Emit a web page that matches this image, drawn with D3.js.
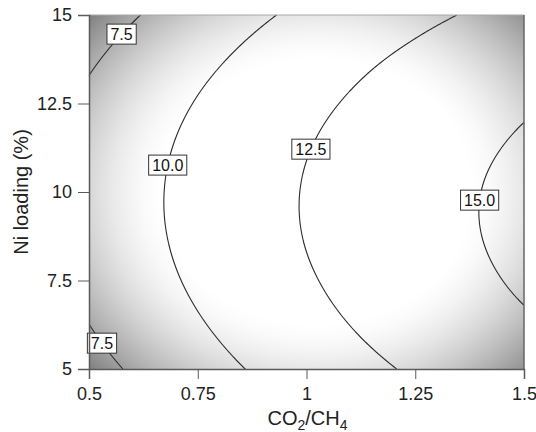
<!DOCTYPE html>
<html>
<head>
<meta charset="utf-8">
<script src="https://cdn.jsdelivr.net/npm/d3@7"></script>
<style>
  body { margin: 0; background: #fff; }
  svg { display: block; }
</style>
</head>
<body>
<svg id="chart" width="536" height="432"></svg>
<script>
// Grid of CO2/CH4 ratios (columns) and Ni loadings (rows, %)
const ratioGrid = [0.5, 0.625, 0.75, 0.875, 1.0, 1.125, 1.25, 1.375, 1.5];
const loadingGrid = [5, 6.25, 7.5, 8.75, 10, 11.25, 12.5, 13.75, 15];

// Response values, one row per Ni loading
const load5    = [6.73, 7.95, 9.08, 10.13, 11.09, 11.97, 12.76, 13.47, 14.09];
const load6_25 = [7.49, 8.70, 9.82, 10.86, 11.81, 12.68, 13.46, 14.16, 14.77];
const load7_5  = [8.02, 9.22, 10.33, 11.36, 12.30, 13.16, 13.93, 14.62, 15.23];
const load8_75 = [8.32, 9.51, 10.61, 11.63, 12.57, 13.42, 14.18, 14.86, 15.45];
const load10   = [8.39, 9.57, 10.67, 11.68, 12.61, 13.45, 14.20, 14.87, 15.46];
const load11_25= [8.24, 9.41, 10.50, 11.50, 12.42, 13.25, 13.99, 14.65, 15.23];
const load12_5 = [7.86, 9.02, 10.10, 11.09, 12.00, 12.82, 13.56, 14.21, 14.78];
const load13_75= [7.25, 8.40, 9.47, 10.45, 11.35, 12.17, 12.89, 13.54, 14.09];
const load15   = [6.41, 7.56, 8.62, 9.59, 10.48, 11.29, 12.00, 12.64, 13.19];

// Contour levels and axis ticks
const levels = [7.5, 10, 12.5, 15];
const xTicks = [0.5, 0.75, 1, 1.25, 1.5];
const yTicks = [5, 7.5, 10, 12.5, 15];

const rows = [load5, load6_25, load7_5, load8_75, load10, load11_25, load12_5, load13_75, load15];

// ---- layout ----
const W = 536, H = 432;
const plot = { left: 89, right: 524, top: 15, bottom: 369 };
// Ni loading at which each contour label sits (label is placed on its line)
const labelRows = [[7.5, 14.46], [7.5, 5.73], [10, 10.76], [12.5, 11.21], [15, 9.77]];

const FONT = "Arial, 'Liberation Sans', Helvetica, sans-serif";
const svg = d3.select("#chart");
svg.append("rect").attr("width", W).attr("height", H).attr("fill", "#fff");

const x = d3.scaleLinear().domain([0.5, 1.5]).range([plot.left, plot.right]);
const y = d3.scaleLinear().domain([5, 15]).range([plot.bottom, plot.top]);

// ---- smooth surface through the grid (Catmull-Rom in both directions) ----
function extend(a) {
  const n = a.length;
  return [3 * a[0] - 3 * a[1] + a[2], ...a, 3 * a[n - 1] - 3 * a[n - 2] + a[n - 3]];
}
function cr(p0, p1, p2, p3, t) {
  return 0.5 * (2 * p1 + (-p0 + p2) * t + (2 * p0 - 5 * p1 + 4 * p2 - p3) * t * t +
    (-p0 + 3 * p1 - 3 * p2 + p3) * t * t * t);
}
function interp(ext, u) {
  const n = ext.length - 2;
  let i = Math.floor(u);
  if (i > n - 2) i = n - 2;
  if (i < 0) i = 0;
  const t = u - i;
  return cr(ext[i], ext[i + 1], ext[i + 2], ext[i + 3], t);
}
const extRows = rows.map(extend);
const xStep = ratioGrid[1] - ratioGrid[0], yStep = loadingGrid[1] - loadingGrid[0];
function columnAt(xv) {
  const u = (xv - ratioGrid[0]) / xStep;
  return extend(extRows.map(r => interp(r, u)));
}
function surface(xv, yv) {
  return interp(columnAt(xv), (yv - loadingGrid[0]) / yStep);
}

// ---- sample the surface at pixel resolution ----
const N = plot.right - plot.left, M = plot.bottom - plot.top;
const values = new Float64Array(N * M);
for (let i = 0; i < N; i++) {
  const col = columnAt(x.invert(plot.left + i + 0.5));
  for (let j = 0; j < M; j++) {
    const yv = y.invert(plot.top + j + 0.5);
    values[j * N + i] = interp(col, (yv - loadingGrid[0]) / yStep);
  }
}

// ---- gray shading, light in the middle and darker towards the corners ----
const canvas = document.createElement("canvas");
canvas.width = N; canvas.height = M;
const ctx = canvas.getContext("2d");
const img = ctx.createImageData(N, M);
for (let j = 0; j < M; j++) {
  const B = (y.invert(plot.top + j + 0.5) - 10) / 5;
  for (let i = 0; i < N; i++) {
    const A = (x.invert(plot.left + i + 0.5) - 1) / 0.5;
    const d = Math.hypot(A - 0.045, B * 0.95);
    const dark = d > 0.7 ? 220 * Math.pow(d - 0.7, 1.6) : 0;
    const g = Math.max(90, Math.round(255 - dark));
    const k = (j * N + i) * 4;
    img.data[k] = img.data[k + 1] = img.data[k + 2] = g;
    img.data[k + 3] = 255;
  }
}
ctx.putImageData(img, 0, 0);
svg.append("image")
  .attr("x", plot.left).attr("y", plot.top)
  .attr("width", N).attr("height", M)
  .attr("preserveAspectRatio", "none")
  .attr("href", canvas.toDataURL());

// ---- contour lines (only the iso-lines, not the grid border) ----
const contours = d3.contours().size([N, M]).thresholds(levels)(values);
const eps = 1e-6;
const onEdge = p => p[0] <= eps || p[0] >= N - eps || p[1] <= eps || p[1] >= M - eps;
function isoLines(ring) {
  const out = [];
  let cur = [];
  for (let k = 0; k < ring.length - 1; k++) {
    const p = ring[k], q = ring[k + 1];
    if (onEdge(p) && onEdge(q)) {
      if (cur.length > 1) out.push(cur);
      cur = [];
      continue;
    }
    if (!cur.length) cur.push(p);
    cur.push(q);
  }
  if (cur.length > 1) out.push(cur);
  if (out.length > 1) {
    const first = out[0], last = out[out.length - 1];
    const a = last[last.length - 1], b = first[0];
    if (a[0] === b[0] && a[1] === b[1]) {
      out[0] = last.concat(first.slice(1));
      out.pop();
    }
  }
  return out;
}
const line = d3.line().x(p => plot.left + p[0]).y(p => plot.top + p[1]);
const lineG = svg.append("g").attr("fill", "none").attr("stroke", "#2b2b2b").attr("stroke-width", 1.1);
contours.forEach(c => {
  c.coordinates.forEach(poly => poly.forEach(ring => {
    isoLines(ring).forEach(pts => lineG.append("path").attr("d", line(pts)));
  }));
});

// ---- contour labels ----
function crossing(level, yv) {
  let lo = 0.5, hi = 1.5;
  for (let k = 0; k < 50; k++) {
    const mid = (lo + hi) / 2;
    if (surface(mid, yv) < level) lo = mid; else hi = mid;
  }
  return (lo + hi) / 2;
}
const labG = svg.append("g");
labelRows.forEach(([level, yv]) => {
  const g = labG.append("g")
    .attr("transform", `translate(${x(crossing(level, yv))},${y(yv)})`);
  const rect = g.append("rect").attr("fill", "#fff").attr("stroke", "#333").attr("stroke-width", 1);
  const t = g.append("text")
    .attr("text-anchor", "middle").attr("dy", "0.36em")
    .attr("font-family", FONT).attr("font-size", 16).attr("fill", "#111")
    .text(d3.format(".1f")(level));
  const w = t.node().getComputedTextLength() + 7;
  rect.attr("x", -w / 2).attr("y", -10).attr("width", w).attr("height", 20);
});

// ---- frame and axes ----
svg.append("line").attr("x1", plot.left).attr("x2", plot.right)
  .attr("y1", plot.top).attr("y2", plot.top)
  .attr("stroke", "#a8a8a8").attr("stroke-width", 1);
svg.append("line").attr("x1", plot.right).attr("x2", plot.right)
  .attr("y1", plot.top).attr("y2", plot.bottom)
  .attr("stroke", "#666").attr("stroke-width", 1.5);

const xAxis = svg.append("g").attr("transform", `translate(0,${plot.bottom})`)
  .call(d3.axisBottom(x).tickValues(xTicks).tickSize(10).tickPadding(8).tickFormat(d => String(d)));
const yAxis = svg.append("g").attr("transform", `translate(${plot.left},0)`)
  .call(d3.axisLeft(y).tickValues(yTicks).tickSize(11).tickPadding(6).tickFormat(d => String(d)));
[xAxis, yAxis].forEach(a => {
  a.select(".domain").attr("stroke", "#5a5a5a").attr("stroke-width", 1.5);
  a.selectAll(".tick line").attr("stroke", "#5a5a5a").attr("stroke-width", 1);
  a.selectAll(".tick text").attr("font-family", FONT).attr("font-size", 18).attr("fill", "#222");
});

// ---- axis titles ----
svg.append("text")
  .attr("transform", `translate(28,${(plot.top + plot.bottom) / 2}) rotate(-90)`)
  .attr("text-anchor", "middle")
  .attr("font-family", FONT).attr("font-size", 20).attr("fill", "#222")
  .text("Ni loading (%)");

const xt = svg.append("text")
  .attr("x", (plot.left + plot.right) / 2 + 1).attr("y", 425)
  .attr("text-anchor", "middle")
  .attr("font-family", FONT).attr("font-size", 20).attr("fill", "#222");
xt.append("tspan").text("CO");
xt.append("tspan").attr("dy", 5).attr("font-size", 14).text("2");
xt.append("tspan").attr("dy", -5).text("/CH");
xt.append("tspan").attr("dy", 5).attr("font-size", 14).text("4");
</script>
</body>
</html>
